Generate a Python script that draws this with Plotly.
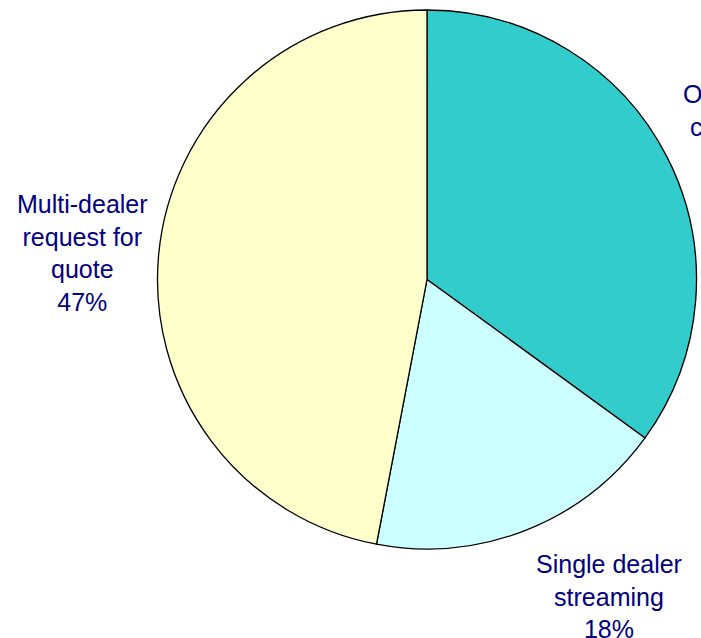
import plotly.graph_objects as go

labels = ["Order-driven central limit", "Single dealer streaming", "Multi-dealer request for quote"]
values = [35, 18, 47]
colors = ["#33CCCC", "#CCFFFF", "#FFFFCC"]
label_texts = ["Order-driven<br>central limit<br>35%",
               "Single dealer<br>streaming<br>18%",
               "Multi-dealer<br>request for<br>quote<br>47%"]

W, H = 701, 638
fig = go.Figure(go.Pie(
    labels=labels, values=values, sort=False, direction="clockwise", rotation=0,
    marker=dict(colors=colors, line=dict(color="black", width=1.3)),
    textinfo="none", hoverinfo="label+percent", showlegend=False,
    domain=dict(x=[157 / W, 697 / W], y=[1 - 549 / H, 1 - 10 / H]),
))

# label pixel centres (x, y) in the page
pos = [(753, 127), (609, 596), (82, 253)]
for (px, py), t in zip(pos, label_texts):
    fig.add_annotation(x=px / W, y=1 - py / H, xref="paper", yref="paper", text=t,
                       showarrow=False, align="center", xanchor="center", yanchor="middle",
                       font=dict(family="Liberation Sans, Arial, sans-serif", size=25, color="#000080"))

fig.update_layout(width=W, height=H, margin=dict(l=0, r=0, t=0, b=0),
                  paper_bgcolor="white", plot_bgcolor="white")
fig.write_html("out.html", config={"displayModeBar": False},
               post_script="document.body.style.margin='0';document.body.style.overflow='hidden';")
